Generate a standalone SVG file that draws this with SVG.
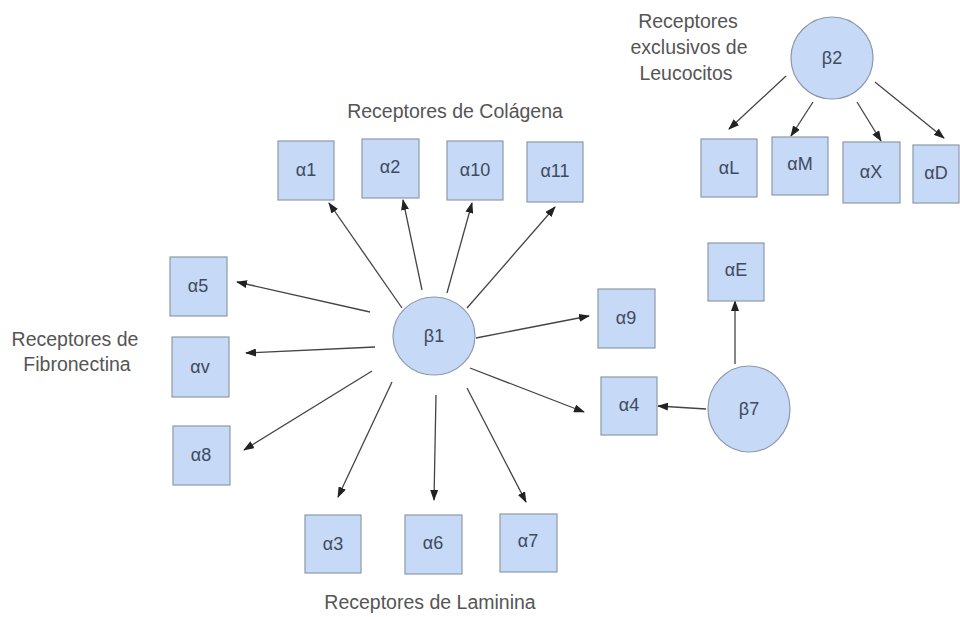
<svg xmlns="http://www.w3.org/2000/svg" width="960" height="617" viewBox="0 0 960 617">
<defs>
<marker id="ah" markerWidth="11" markerHeight="8" refX="10" refY="4" orient="auto" markerUnits="userSpaceOnUse">
<path d="M0,0 L11,4 L0,8 z" fill="#222"/>
</marker>
<style>
.box{fill:#c6d9f6;stroke:#8c99ab;stroke-width:1.2}
.circ{fill:#c6d9f6;stroke:#8c99ab;stroke-width:1.2}
.nt{font-family:"Liberation Sans",Arial,sans-serif;font-size:18px;fill:#3e4b60;text-anchor:middle;dominant-baseline:central}
.lbl{font-family:"Liberation Sans",Arial,sans-serif;font-size:19.5px;fill:#555555;text-anchor:middle}
.c line{stroke:#444;stroke-width:1.3;marker-end:url(#ah)}
</style>
</defs>
<rect width="960" height="617" fill="#ffffff"/>

<g id="labels">
<text class="lbl" x="455" y="118">Receptores de Colágena</text>
<text class="lbl" x="75" y="346">Receptores de</text>
<text class="lbl" x="77" y="371">Fibronectina</text>
<text class="lbl" x="430" y="609">Receptores de Laminina</text>
<text class="lbl" x="688" y="28">Receptores</text>
<text class="lbl" x="689" y="54">exclusivos de</text>
<text class="lbl" x="686" y="80">Leucocitos</text>
</g>

<g class="c" id="connectors">
<line x1="402" y1="308" x2="329" y2="203"/>
<line x1="422" y1="290" x2="403" y2="200"/>
<line x1="447" y1="293" x2="472" y2="203"/>
<line x1="467" y1="308" x2="555" y2="207"/>
<line x1="370" y1="312" x2="237" y2="282"/>
<line x1="375" y1="347" x2="246" y2="353"/>
<line x1="372" y1="371" x2="244" y2="450"/>
<line x1="392" y1="382" x2="338" y2="497"/>
<line x1="436" y1="395" x2="434" y2="500"/>
<line x1="467" y1="388" x2="526" y2="502"/>
<line x1="476" y1="338" x2="589" y2="316"/>
<line x1="470" y1="368" x2="584" y2="412"/>
<line x1="735" y1="364" x2="735" y2="301"/>
<line x1="706" y1="409" x2="658" y2="406"/>
<line x1="786" y1="76" x2="729" y2="129"/>
<line x1="813" y1="102" x2="791" y2="136"/>
<line x1="857" y1="102" x2="881" y2="141"/>
<line x1="875" y1="82" x2="944" y2="138"/>
</g>

<g id="b1"><ellipse class="circ" cx="434" cy="336" rx="41" ry="39"/><text class="nt" x="434" y="336">β1</text></g>
<g id="b2"><circle class="circ" cx="832" cy="58" r="41"/><text class="nt" x="832" y="58">β2</text></g>
<g id="b7"><ellipse class="circ" cx="749" cy="409" rx="41" ry="43"/><text class="nt" x="749" y="409">β7</text></g>

<g id="a1"><rect class="box" x="278" y="141" width="56" height="59"/><text class="nt" x="306" y="170">α1</text></g>
<g id="a2"><rect class="box" x="362" y="139" width="57" height="59"/><text class="nt" x="390" y="167">α2</text></g>
<g id="a10"><rect class="box" x="447" y="141" width="56" height="59"/><text class="nt" x="475" y="170">α10</text></g>
<g id="a11"><rect class="box" x="527" y="142" width="56" height="60"/><text class="nt" x="555" y="171">α11</text></g>
<g id="a5"><rect class="box" x="170" y="257" width="57" height="59"/><text class="nt" x="198" y="286">α5</text></g>
<g id="av"><rect class="box" x="172" y="337" width="57" height="60"/><text class="nt" x="200" y="367">αv</text></g>
<g id="a8"><rect class="box" x="173" y="426" width="57" height="59"/><text class="nt" x="201" y="455">α8</text></g>
<g id="a3"><rect class="box" x="305" y="515" width="56" height="58"/><text class="nt" x="333" y="544">α3</text></g>
<g id="a6"><rect class="box" x="405" y="515" width="57" height="59"/><text class="nt" x="433" y="543">α6</text></g>
<g id="a7"><rect class="box" x="500" y="514" width="57" height="58"/><text class="nt" x="528" y="541">α7</text></g>
<g id="a9"><rect class="box" x="598" y="289" width="57" height="59"/><text class="nt" x="626" y="318">α9</text></g>
<g id="a4"><rect class="box" x="601" y="377" width="56" height="58"/><text class="nt" x="629" y="405">α4</text></g>
<g id="aE"><rect class="box" x="708" y="243" width="56" height="58"/><text class="nt" x="736" y="270">αE</text></g>
<g id="aL"><rect class="box" x="701" y="139" width="56" height="58"/><text class="nt" x="729" y="168">αL</text></g>
<g id="aM"><rect class="box" x="772" y="137" width="56" height="58"/><text class="nt" x="800" y="164">αM</text></g>
<g id="aX"><rect class="box" x="843" y="142" width="57" height="61"/><text class="nt" x="871" y="172">αX</text></g>
<g id="aD"><rect class="box" x="913" y="145" width="46" height="58"/><text class="nt" x="936" y="173">αD</text></g>
</svg>
